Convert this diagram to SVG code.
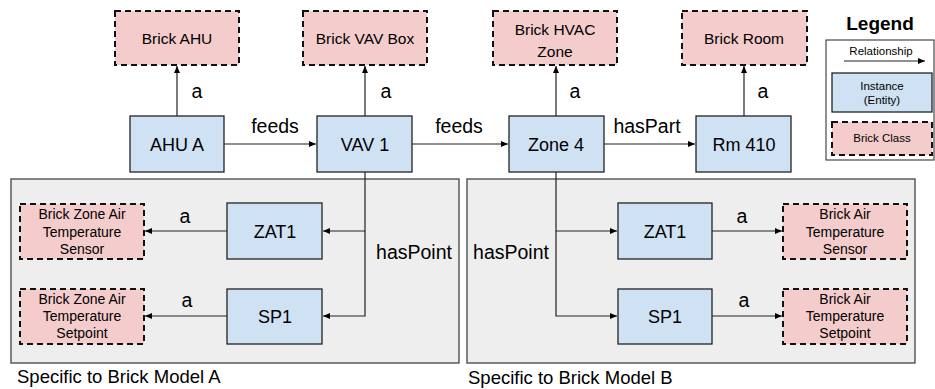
<svg xmlns="http://www.w3.org/2000/svg" width="935" height="389" viewBox="0 0 935 389">
<defs>
<marker id="ah" markerWidth="8" markerHeight="6" refX="7" refY="3" orient="auto" markerUnits="userSpaceOnUse">
<path d="M0,0 L7,3 L0,6 Z" fill="#000"/>
</marker>
<style>
text{font-family:"Liberation Sans",Arial,sans-serif;fill:#000;text-anchor:middle}
.inst{fill:#cfe2f3;stroke:#222;stroke-width:1.3}
.cls{fill:#f4cccc;stroke:#111;stroke-width:2;stroke-dasharray:6,4}
.grp{fill:#eeeeee;stroke:#444;stroke-width:1.3}
.edge{fill:none;stroke:#222;stroke-width:1.2;marker-end:url(#ah)}
.nl{font-size:18px}
.cl{font-size:15.5px}
.sl{font-size:14px}
.el{font-size:19.5px}
.lg{font-size:11.5px}
</style>
</defs>
<rect width="935" height="389" fill="#fff"/>
<g id="groupA"><rect class="grp" x="11" y="179" width="448" height="184"/><text x="17" y="383" style="text-anchor:start;font-size:18.5px">Specific to Brick Model A</text></g>
<g id="groupB"><rect class="grp" x="467" y="179" width="448" height="184"/><text x="468" y="384" style="text-anchor:start;font-size:18.5px">Specific to Brick Model B</text></g>
<g id="connectors">
<line class="edge" x1="177" y1="116" x2="177" y2="66"/>
<line class="edge" x1="365" y1="116" x2="365" y2="66"/>
<line class="edge" x1="556" y1="116" x2="556" y2="66"/>
<line class="edge" x1="744" y1="116" x2="744" y2="66"/>
<line class="edge" x1="224" y1="144" x2="316" y2="144"/>
<line class="edge" x1="412" y1="144" x2="508" y2="144"/>
<line class="edge" x1="604" y1="144" x2="695" y2="144"/>
<path class="edge" d="M365,172 V231 H323"/>
<path class="edge" d="M365,231 V316 H323"/>
<line class="edge" x1="227" y1="231" x2="145" y2="231"/>
<line class="edge" x1="227" y1="316" x2="145" y2="316"/>
<path class="edge" d="M556,172 V231 H617"/>
<path class="edge" d="M556,231 V316 H617"/>
<line class="edge" x1="712" y1="231" x2="782" y2="231"/>
<line class="edge" x1="712" y1="316" x2="782" y2="316"/>
<text class="el" x="197" y="98">a</text>
<text class="el" x="386" y="98">a</text>
<text class="el" x="575" y="98">a</text>
<text class="el" x="763" y="98">a</text>
<text class="el" x="275" y="133">feeds</text>
<text class="el" x="459" y="133">feeds</text>
<text class="el" x="647" y="133">hasPart</text>
<text class="el" x="414" y="259">hasPoint</text>
<text class="el" x="511" y="259">hasPoint</text>
<text class="el" x="185" y="223">a</text>
<text class="el" x="187" y="307">a</text>
<text class="el" x="742" y="223">a</text>
<text class="el" x="744" y="307">a</text>
</g>
<g id="brickAHU"><rect class="cls" x="115" y="11" width="124" height="54"/><text class="cl" x="177" y="44">Brick AHU</text></g>
<g id="brickVAV"><rect class="cls" x="303" y="11" width="124" height="54"/><text class="cl" x="365" y="44">Brick VAV Box</text></g>
<g id="brickZone"><rect class="cls" x="493" y="11" width="124" height="54"/><text class="cl" x="555" y="35">Brick HVAC</text><text class="cl" x="555" y="57">Zone</text></g>
<g id="brickRoom"><rect class="cls" x="682" y="11" width="125" height="54"/><text class="cl" x="744" y="44">Brick Room</text></g>
<g id="ahuA"><rect class="inst" x="130" y="116" width="94" height="56"/><text class="nl" x="177" y="151">AHU A</text></g>
<g id="vav1"><rect class="inst" x="317" y="116" width="95" height="56"/><text class="nl" x="365" y="151">VAV 1</text></g>
<g id="zone4"><rect class="inst" x="509" y="116" width="95" height="56"/><text class="nl" x="556" y="151">Zone 4</text></g>
<g id="rm410"><rect class="inst" x="696" y="116" width="95" height="56"/><text class="nl" x="744" y="151">Rm 410</text></g>
<g id="zat1A"><rect class="inst" x="227" y="203" width="95" height="56"/><text class="nl" x="275" y="238">ZAT1</text></g>
<g id="sp1A"><rect class="inst" x="227" y="289" width="95" height="55"/><text class="nl" x="275" y="323">SP1</text></g>
<g id="sensorA"><rect class="cls" x="20" y="204" width="124" height="55"/><text class="sl" x="82" y="219">Brick Zone Air</text><text class="sl" x="82" y="237">Temperature</text><text class="sl" x="82" y="254">Sensor</text></g>
<g id="setpointA"><rect class="cls" x="20" y="289" width="124" height="55"/><text class="sl" x="82" y="304">Brick Zone Air</text><text class="sl" x="82" y="321">Temperature</text><text class="sl" x="82" y="338">Setpoint</text></g>
<g id="zat1B"><rect class="inst" x="618" y="203" width="94" height="56"/><text class="nl" x="665" y="238">ZAT1</text></g>
<g id="sp1B"><rect class="inst" x="618" y="289" width="94" height="55"/><text class="nl" x="665" y="323">SP1</text></g>
<g id="sensorB"><rect class="cls" x="783" y="204" width="124" height="55"/><text class="sl" x="845" y="219">Brick Air</text><text class="sl" x="845" y="237">Temperature</text><text class="sl" x="845" y="254">Sensor</text></g>
<g id="setpointB"><rect class="cls" x="783" y="289" width="124" height="55"/><text class="sl" x="845" y="304">Brick Air</text><text class="sl" x="845" y="321">Temperature</text><text class="sl" x="845" y="338">Setpoint</text></g>
<g id="legend">
<text x="880" y="30" style="font-size:19px;font-weight:bold">Legend</text>
<rect x="826" y="40" width="108" height="120" fill="#fff" stroke="#222" stroke-width="1"/>
<text class="lg" x="881" y="55">Relationship</text>
<line x1="844" y1="61" x2="925" y2="61" stroke="#222" stroke-width="1" marker-end="url(#ah)"/>
<rect class="inst" x="832" y="73" width="100" height="39"/>
<text class="lg" x="882" y="90">Instance</text>
<text class="lg" x="882" y="104">(Entity)</text>
<rect class="cls" x="832" y="122" width="100" height="33"/>
<text class="lg" x="882" y="142">Brick Class</text>
</g>
</svg>
